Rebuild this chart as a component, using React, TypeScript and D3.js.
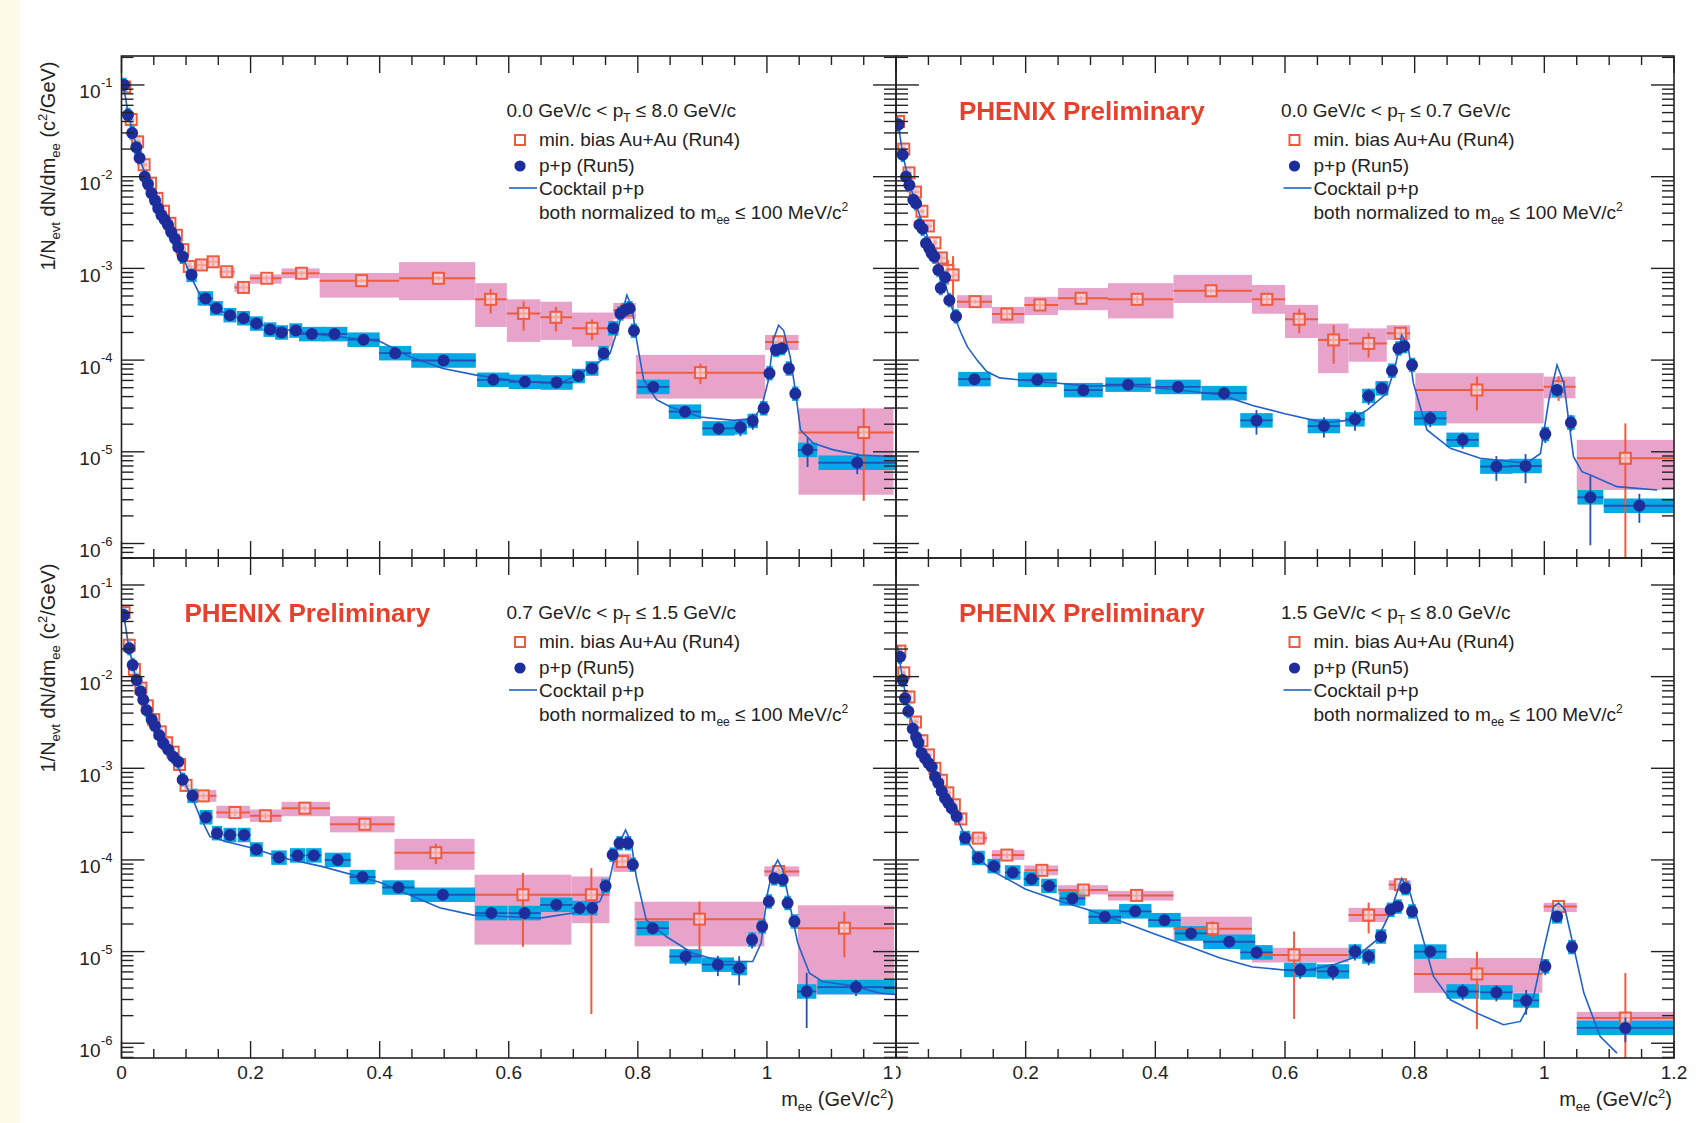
import React from "react";
import * as d3 from "d3";

// pp points: mass, yield, half bin width, relative stat error
type PP = [number, number, number, number];
// Au+Au points: mass, yield, bin low, bin high, relative stat error, syst low, syst high
type AA = [number, number, number, number, number, number, number];
type XY = [number, number];

// ---- 0.0 < pT < 8.0 ----
const ppTL: PP[] = [
  [0.004, 0.1, 0.004, 0.03], [0.01, 0.047, 0.004, 0.03], [0.0165, 0.03, 0.004, 0.03], [0.023, 0.021, 0.004, 0.03],
  [0.028, 0.016, 0.004, 0.03], [0.036, 0.01, 0.004, 0.03], [0.041, 0.0083, 0.004, 0.03], [0.0465, 0.0066, 0.004, 0.03],
  [0.052, 0.0055, 0.004, 0.03], [0.057, 0.0045, 0.004, 0.03], [0.062, 0.0038, 0.004, 0.03], [0.067, 0.0034, 0.004, 0.03],
  [0.072, 0.003, 0.004, 0.03], [0.077, 0.0025, 0.004, 0.03], [0.083, 0.0021, 0.004, 0.03], [0.088, 0.0017, 0.004, 0.03],
  [0.095, 0.00134, 0.005, 0.03], [0.1085, 8.5e-4, 0.008, 0.03], [0.13, 4.7e-4, 0.012, 0.03], [0.147, 3.67e-4, 0.01, 0.03],
  [0.168, 3.09e-4, 0.01, 0.03], [0.189, 2.86e-4, 0.01, 0.03], [0.209, 2.5e-4, 0.01, 0.03], [0.23, 2.15e-4, 0.01, 0.03],
  [0.248, 2.0e-4, 0.01, 0.03], [0.27, 2.1e-4, 0.01, 0.03], [0.295, 1.92e-4, 0.02, 0.03], [0.33, 1.92e-4, 0.02, 0.03],
  [0.375, 1.67e-4, 0.025, 0.04], [0.424, 1.19e-4, 0.025, 0.05], [0.499, 9.9e-5, 0.05, 0.05], [0.576, 6.1e-5, 0.025, 0.08],
  [0.625, 5.8e-5, 0.025, 0.08], [0.674, 5.7e-5, 0.025, 0.08], [0.708, 6.7e-5, 0.01, 0.08], [0.729, 8.1e-5, 0.01, 0.08],
  [0.747, 1.19e-4, 0.008, 0.06], [0.762, 2.22e-4, 0.008, 0.05], [0.773, 3.23e-4, 0.005, 0.04], [0.78, 3.52e-4, 0.005, 0.04],
  [0.787, 3.67e-4, 0.005, 0.04], [0.794, 2.09e-4, 0.005, 0.05], [0.824, 5.1e-5, 0.025, 0.1], [0.873, 2.74e-5, 0.025, 0.12],
  [0.925, 1.8e-5, 0.025, 0.15], [0.959, 1.85e-5, 0.01, 0.2], [0.978, 2.17e-5, 0.008, 0.2], [0.995, 2.98e-5, 0.006, 0.15],
  [1.004, 7.2e-5, 0.005, 0.1], [1.014, 1.29e-4, 0.005, 0.08], [1.023, 1.35e-4, 0.005, 0.08], [1.034, 8.1e-5, 0.005, 0.1],
  [1.044, 4.3e-5, 0.005, 0.12], [1.063, 1.05e-5, 0.015, 0.35], [1.14, 7.6e-6, 0.06, 0.25],
];
const auTL: AA[] = [
  [0.005, 0.095, 0, 0.01, 0.05, 0.082, 0.11], [0.015, 0.042, 0.01, 0.02, 0.05, 0.036, 0.048],
  [0.025, 0.024, 0.02, 0.03, 0.05, 0.021, 0.028], [0.035, 0.0135, 0.03, 0.04, 0.05, 0.0118, 0.0155],
  [0.045, 0.0085, 0.04, 0.05, 0.05, 0.0074, 0.0097], [0.055, 0.0058, 0.05, 0.06, 0.05, 0.005, 0.0066],
  [0.065, 0.0042, 0.06, 0.07, 0.05, 0.0036, 0.0048], [0.075, 0.0031, 0.07, 0.08, 0.05, 0.0027, 0.0035],
  [0.085, 0.0023, 0.08, 0.09, 0.05, 0.002, 0.0026], [0.095, 0.0016, 0.09, 0.1, 0.05, 0.0014, 0.0018],
  [0.105, 0.00105, 0.1, 0.11, 0.1, 0.0009, 0.0012], [0.124, 1.09e-3, 0.115, 0.133, 0.1, 9.5e-4, 1.25e-3],
  [0.142, 1.18e-3, 0.133, 0.152, 0.1, 1.03e-3, 1.35e-3], [0.163, 9.2e-4, 0.152, 0.175, 0.1, 8.2e-4, 1.03e-3],
  [0.189, 6.2e-4, 0.175, 0.199, 0.12, 5.5e-4, 6.9e-4], [0.225, 7.8e-4, 0.199, 0.248, 0.08, 6.8e-4, 8.6e-4],
  [0.279, 8.85e-4, 0.248, 0.307, 0.06, 7.8e-4, 1.0e-3], [0.372, 7.35e-4, 0.307, 0.43, 0.05, 4.8e-4, 8.9e-4],
  [0.491, 7.8e-4, 0.43, 0.548, 0.05, 4.5e-4, 1.17e-3], [0.572, 4.6e-4, 0.548, 0.597, 0.3, 2.3e-4, 6.9e-4],
  [0.623, 3.23e-4, 0.597, 0.649, 0.35, 1.58e-4, 4.6e-4], [0.673, 2.93e-4, 0.649, 0.698, 0.3, 1.66e-4, 4.33e-4],
  [0.729, 2.22e-4, 0.698, 0.762, 0.25, 1.4e-4, 3.3e-4], [0.783, 3.5e-4, 0.762, 0.797, 0.1, 2.8e-4, 4.2e-4],
  [0.897, 7.3e-5, 0.797, 0.997, 0.25, 3.8e-5, 1.14e-4], [1.018, 1.58e-4, 0.997, 1.049, 0.1, 1.29e-4, 1.88e-4],
  [1.15, 1.62e-5, 1.049, 1.196, 0.82, 3.4e-6, 2.98e-5],
];
const ccTL: XY[] = [
  [0.002, 0.11], [0.01, 0.05], [0.02, 0.026], [0.03, 0.0145], [0.04, 0.0092], [0.05, 0.006], [0.06, 0.0043],
  [0.07, 0.0032], [0.08, 0.0023], [0.09, 0.0016], [0.1, 0.0011], [0.11, 7.5e-4], [0.12, 5.4e-4], [0.135, 4.1e-4],
  [0.15, 3.5e-4], [0.18, 2.9e-4], [0.22, 2.4e-4], [0.27, 2.05e-4], [0.32, 1.85e-4], [0.37, 1.7e-4], [0.4, 1.6e-4],
  [0.447, 1.09e-4], [0.498, 8.1e-5], [0.548, 6.9e-5], [0.62, 5.8e-5], [0.68, 5.6e-5], [0.731, 8.5e-5],
  [0.757, 1.19e-4], [0.77, 2.31e-4], [0.783, 5.1e-4], [0.791, 3.8e-4], [0.798, 1.66e-4], [0.809, 6.1e-5],
  [0.829, 3.7e-5], [0.85, 3.1e-5], [0.897, 2.4e-5], [0.948, 2.2e-5], [0.979, 2.3e-5], [0.992, 3.1e-5],
  [1.0025, 6.1e-5], [1.01, 1.66e-4], [1.018, 2.4e-4], [1.026, 2.1e-4], [1.036, 1.09e-4], [1.044, 4.7e-5],
  [1.052, 1.73e-5], [1.072, 1.24e-5], [1.103, 1.05e-5], [1.145, 9.2e-6], [1.196, 8.85e-6],
];

// ---- 0.0 < pT < 0.7 ----
const ppTR: PP[] = [
  [0.004, 0.037, 0.003, 0.03], [0.0103, 0.0173, 0.003, 0.03], [0.0154, 0.01, 0.003, 0.03], [0.0206, 0.0081, 0.003, 0.03],
  [0.0267, 0.0056, 0.003, 0.03], [0.031, 0.0051, 0.003, 0.03], [0.036, 0.003, 0.003, 0.03], [0.041, 0.0027, 0.003, 0.03],
  [0.0463, 0.00188, 0.003, 0.04], [0.0514, 0.00166, 0.003, 0.04], [0.055, 0.00146, 0.003, 0.04], [0.059, 0.00134, 0.003, 0.04],
  [0.0653, 9.6e-4, 0.003, 0.05], [0.069, 6.1e-4, 0.003, 0.06], [0.0756, 8.0e-4, 0.003, 0.05], [0.0823, 4.5e-4, 0.003, 0.08],
  [0.0926, 3.0e-4, 0.004, 0.15], [0.121, 6.2e-5, 0.025, 0.1], [0.218, 6.1e-5, 0.03, 0.1], [0.289, 4.7e-5, 0.03, 0.12],
  [0.358, 5.4e-5, 0.035, 0.12], [0.435, 5.1e-5, 0.035, 0.12], [0.506, 4.36e-5, 0.035, 0.15], [0.556, 2.2e-5, 0.025, 0.3],
  [0.66, 1.91e-5, 0.025, 0.25], [0.708, 2.26e-5, 0.015, 0.25], [0.729, 4.06e-5, 0.01, 0.2], [0.7495, 4.92e-5, 0.01, 0.15],
  [0.765, 7.67e-5, 0.006, 0.1], [0.775, 1.34e-4, 0.005, 0.08], [0.784, 1.42e-4, 0.005, 0.08], [0.796, 8.85e-5, 0.005, 0.1],
  [0.824, 2.32e-5, 0.025, 0.2], [0.874, 1.35e-5, 0.025, 0.2], [0.926, 6.9e-6, 0.025, 0.3], [0.971, 7.0e-6, 0.025, 0.35],
  [1.0015, 1.56e-5, 0.006, 0.2], [1.0196, 4.72e-5, 0.008, 0.15], [1.041, 2.08e-5, 0.006, 0.2], [1.071, 3.19e-6, 0.02, 0.7],
  [1.1466, 2.58e-6, 0.055, 0.35],
];
const auTR: AA[] = [
  [0.004, 0.04, 0, 0.008, 0.05, 0.034, 0.046], [0.012, 0.02, 0.008, 0.016, 0.05, 0.017, 0.023],
  [0.02, 0.011, 0.016, 0.024, 0.05, 0.0094, 0.0127], [0.03, 0.0068, 0.024, 0.036, 0.05, 0.0058, 0.0078],
  [0.04, 0.0042, 0.036, 0.044, 0.05, 0.0036, 0.0048], [0.05, 0.0029, 0.044, 0.056, 0.06, 0.0025, 0.0033],
  [0.06, 0.0019, 0.056, 0.064, 0.07, 0.0016, 0.0022], [0.07, 0.0013, 0.064, 0.076, 0.1, 0.0011, 0.0015],
  [0.08, 9.5e-4, 0.076, 0.084, 0.3, 8.1e-4, 1.1e-3], [0.088, 8.5e-4, 0.084, 0.094, 0.6, 7.3e-4, 9.8e-4],
  [0.122, 4.34e-4, 0.094, 0.148, 0.05, 3.7e-4, 5.1e-4], [0.171, 3.18e-4, 0.148, 0.198, 0.15, 2.5e-4, 3.8e-4],
  [0.222, 3.99e-4, 0.198, 0.25, 0.1, 3.1e-4, 4.9e-4], [0.2855, 4.72e-4, 0.25, 0.327, 0.06, 3.5e-4, 6.1e-4],
  [0.372, 4.6e-4, 0.327, 0.428, 0.08, 2.85e-4, 6.9e-4], [0.486, 5.7e-4, 0.428, 0.549, 0.05, 4.2e-4, 8.5e-4],
  [0.572, 4.6e-4, 0.549, 0.6, 0.1, 3.2e-4, 6.6e-4], [0.622, 2.79e-4, 0.6, 0.651, 0.3, 1.74e-4, 4.0e-4],
  [0.675, 1.66e-4, 0.651, 0.698, 0.45, 7.2e-5, 2.5e-4], [0.729, 1.52e-4, 0.698, 0.757, 0.3, 9.6e-5, 2.22e-4],
  [0.778, 1.96e-4, 0.757, 0.793, 0.15, 1.66e-4, 2.4e-4], [0.896, 4.72e-5, 0.801, 0.999, 0.4, 2.04e-5, 7.2e-5],
  [1.022, 5.13e-5, 0.999, 1.048, 0.3, 3.83e-5, 6.6e-5], [1.125, 8.5e-6, 1.05, 1.2, 1.4, 3.83e-6, 1.35e-5],
];
const ccTR: XY[] = [
  [0.002, 0.045], [0.01, 0.018], [0.02, 0.0088], [0.03, 0.0052], [0.04, 0.0032], [0.05, 0.0021], [0.06, 0.0014],
  [0.07, 9.5e-4], [0.08, 5.4e-4], [0.09, 3.0e-4], [0.1, 2.0e-4], [0.11, 1.4e-4], [0.125, 1.0e-4], [0.14, 7.5e-5],
  [0.16, 6.4e-5], [0.2, 6.0e-5], [0.25, 5.6e-5], [0.3, 5.2e-5], [0.35, 5.3e-5], [0.4, 5.0e-5], [0.45, 4.6e-5],
  [0.5, 4.2e-5], [0.55, 3.2e-5], [0.6, 2.6e-5], [0.66, 2.08e-5], [0.698, 2.2e-5], [0.727, 2.86e-5], [0.757, 4.35e-5],
  [0.77, 8.5e-5], [0.78, 1.88e-4], [0.79, 1.4e-4], [0.798, 5.6e-5], [0.819, 1.73e-5], [0.855, 1.09e-5],
  [0.901, 8.5e-6], [0.973, 7.5e-6], [0.994, 9.6e-6], [1.007, 3.67e-5], [1.0196, 8.85e-5], [1.03, 5.6e-5],
  [1.045, 8.85e-6], [1.058, 6.07e-6], [1.071, 5.6e-6], [1.112, 4.17e-6], [1.174, 3.83e-6],
];

// ---- 0.7 < pT < 1.5 ----
const ppBL: PP[] = [
  [0.0039, 0.047, 0.003, 0.03], [0.012, 0.0204, 0.003, 0.03], [0.0173, 0.0134, 0.003, 0.03], [0.0235, 0.0092, 0.003, 0.03],
  [0.0297, 0.0069, 0.003, 0.03], [0.0337, 0.0056, 0.003, 0.03], [0.039, 0.0043, 0.003, 0.03], [0.0467, 0.0034, 0.003, 0.03],
  [0.0519, 0.0029, 0.003, 0.03], [0.0585, 0.0023, 0.003, 0.03], [0.0647, 0.00188, 0.003, 0.03], [0.0725, 0.00159, 0.003, 0.03],
  [0.0802, 0.00134, 0.003, 0.03], [0.088, 0.00118, 0.003, 0.03], [0.0947, 7.5e-4, 0.004, 0.04], [0.11, 5.0e-4, 0.008, 0.04],
  [0.131, 2.92e-4, 0.01, 0.05], [0.148, 1.96e-4, 0.008, 0.05], [0.168, 1.87e-4, 0.01, 0.05], [0.19, 1.87e-4, 0.01, 0.05],
  [0.209, 1.3e-4, 0.01, 0.05], [0.244, 1.06e-4, 0.012, 0.05], [0.273, 1.12e-4, 0.012, 0.05], [0.298, 1.12e-4, 0.012, 0.05],
  [0.335, 1.0e-4, 0.02, 0.06], [0.3735, 6.5e-5, 0.02, 0.08], [0.429, 5.0e-5, 0.025, 0.08], [0.498, 4.17e-5, 0.05, 0.1],
  [0.573, 2.63e-5, 0.025, 0.15], [0.6246, 2.63e-5, 0.025, 0.15], [0.6737, 3.24e-5, 0.025, 0.15], [0.7098, 2.98e-5, 0.012, 0.15],
  [0.7294, 2.98e-5, 0.008, 0.15], [0.75, 5.2e-5, 0.007, 0.1], [0.761, 1.14e-4, 0.005, 0.08], [0.7717, 1.52e-4, 0.005, 0.08],
  [0.7846, 1.52e-4, 0.005, 0.08], [0.7923, 8.85e-5, 0.005, 0.1], [0.823, 1.8e-5, 0.025, 0.15], [0.874, 8.85e-6, 0.025, 0.2],
  [0.924, 7.2e-6, 0.025, 0.25], [0.957, 6.6e-6, 0.012, 0.35], [0.977, 1.35e-5, 0.006, 0.2], [0.9926, 1.88e-5, 0.006, 0.15],
  [1.003, 3.52e-5, 0.005, 0.1], [1.0116, 6.3e-5, 0.005, 0.08], [1.0245, 6.07e-5, 0.005, 0.08], [1.032, 3.39e-5, 0.005, 0.1],
  [1.0426, 2.13e-5, 0.006, 0.12], [1.0616, 3.67e-6, 0.015, 0.6], [1.138, 4.1e-6, 0.06, 0.2],
];
const auBL: AA[] = [
  [0.004, 0.05, 0, 0.008, 0.05, 0.043, 0.058], [0.012, 0.022, 0.008, 0.016, 0.05, 0.019, 0.026],
  [0.02, 0.012, 0.016, 0.024, 0.05, 0.0103, 0.014], [0.03, 0.0075, 0.024, 0.036, 0.05, 0.0064, 0.0087],
  [0.04, 0.0048, 0.036, 0.044, 0.05, 0.0041, 0.0056], [0.05, 0.0034, 0.044, 0.056, 0.05, 0.0029, 0.0039],
  [0.06, 0.0025, 0.056, 0.064, 0.05, 0.0021, 0.0029], [0.07, 0.0019, 0.064, 0.076, 0.06, 0.0016, 0.0022],
  [0.08, 0.0015, 0.076, 0.084, 0.07, 0.0013, 0.0017], [0.09, 0.0011, 0.084, 0.096, 0.08, 9.4e-4, 1.28e-3],
  [0.1, 6.5e-4, 0.096, 0.105, 0.1, 5.5e-4, 7.5e-4], [0.1267, 5.0e-4, 0.105, 0.147, 0.08, 4.3e-4, 5.8e-4],
  [0.1757, 3.29e-4, 0.147, 0.199, 0.08, 2.85e-4, 3.9e-4], [0.223, 3.03e-4, 0.199, 0.248, 0.08, 2.6e-4, 3.55e-4],
  [0.284, 3.67e-4, 0.248, 0.323, 0.06, 3.0e-4, 4.3e-4], [0.377, 2.45e-4, 0.323, 0.423, 0.08, 2.0e-4, 3.0e-4],
  [0.487, 1.2e-4, 0.423, 0.547, 0.25, 7.8e-5, 1.7e-4], [0.622, 4.17e-5, 0.547, 0.697, 0.73, 1.19e-5, 6.9e-5],
  [0.728, 4.17e-5, 0.697, 0.756, 0.95, 2.04e-5, 6.6e-5], [0.776, 9.6e-5, 0.762, 0.79, 0.15, 7.4e-5, 1.17e-4],
  [0.8955, 2.26e-5, 0.795, 0.996, 0.55, 1.14e-5, 3.5e-5], [1.018, 7.48e-5, 0.996, 1.05, 0.1, 6.6e-5, 8.5e-5],
  [1.12, 1.8e-5, 1.048, 1.197, 0.52, 3.4e-6, 3.2e-5],
];
const ccBL: XY[] = [
  [0.002, 0.055], [0.01, 0.024], [0.02, 0.011], [0.03, 0.0068], [0.04, 0.0044], [0.05, 0.0031], [0.06, 0.0022],
  [0.07, 0.0017], [0.08, 0.0013], [0.09, 9.5e-4], [0.1, 6.5e-4], [0.111, 4.5e-4], [0.1215, 2.97e-4], [0.137, 1.8e-4],
  [0.163, 1.58e-4], [0.204, 1.34e-4], [0.25, 1.05e-4], [0.31, 8.5e-5], [0.4, 5.7e-5], [0.493, 3.0e-5], [0.545, 2.5e-5],
  [0.648, 2.32e-5], [0.7, 2.63e-5], [0.741, 3.52e-5], [0.756, 6.07e-5], [0.7666, 1.29e-4], [0.781, 2.13e-4],
  [0.79, 1.52e-4], [0.7975, 6.6e-5], [0.813, 2.22e-5], [0.844, 1.46e-5], [0.885, 9.6e-6], [0.9316, 7.8e-6],
  [0.978, 7.8e-6], [0.991, 1.24e-5], [1.001, 4.35e-5], [1.009, 7.8e-5], [1.0167, 1.0e-4], [1.0245, 7.8e-5],
  [1.035, 3.39e-5], [1.0477, 1.24e-5], [1.066, 5.8e-6], [1.086, 4.72e-6], [1.138, 4.17e-6], [1.174, 3.52e-6], [1.2, 3.4e-6],
];

// ---- 1.5 < pT < 8.0 ----
const ppBR: PP[] = [
  [0.0062, 0.0165, 0.003, 0.03], [0.0103, 0.0092, 0.003, 0.03], [0.0139, 0.0058, 0.003, 0.03], [0.019, 0.0042, 0.003, 0.03],
  [0.0258, 0.0027, 0.003, 0.03], [0.031, 0.0022, 0.003, 0.03], [0.0345, 0.0019, 0.003, 0.03], [0.0396, 0.00146, 0.003, 0.03],
  [0.0448, 0.00129, 0.003, 0.03], [0.0499, 0.00114, 0.003, 0.03], [0.055, 0.00104, 0.003, 0.03], [0.0602, 8.1e-4, 0.003, 0.03],
  [0.0653, 6.9e-4, 0.003, 0.03], [0.0705, 5.6e-4, 0.003, 0.03], [0.0756, 4.7e-4, 0.003, 0.03], [0.0807, 4.17e-4, 0.003, 0.03],
  [0.086, 3.67e-4, 0.003, 0.03], [0.0936, 2.97e-4, 0.004, 0.04], [0.1065, 1.73e-4, 0.008, 0.05], [0.127, 1.05e-4, 0.01, 0.05],
  [0.151, 8.55e-5, 0.01, 0.05], [0.18, 7.3e-5, 0.012, 0.05], [0.209, 6.2e-5, 0.012, 0.05], [0.236, 5.2e-5, 0.012, 0.06],
  [0.272, 3.8e-5, 0.02, 0.08], [0.322, 2.4e-5, 0.025, 0.1], [0.369, 2.75e-5, 0.025, 0.1], [0.414, 2.2e-5, 0.025, 0.1],
  [0.455, 1.58e-5, 0.025, 0.12], [0.514, 1.28e-5, 0.04, 0.12], [0.556, 9.8e-6, 0.025, 0.15], [0.6235, 6.3e-6, 0.025, 0.2],
  [0.674, 6.07e-6, 0.025, 0.2], [0.708, 1.0e-5, 0.01, 0.2], [0.729, 8.85e-6, 0.01, 0.2], [0.748, 1.46e-5, 0.008, 0.15],
  [0.763, 2.86e-5, 0.006, 0.1], [0.774, 3.1e-5, 0.006, 0.1], [0.7855, 4.92e-5, 0.006, 0.08], [0.796, 2.74e-5, 0.006, 0.1],
  [0.824, 1.0e-5, 0.025, 0.15], [0.874, 3.67e-6, 0.025, 0.2], [0.926, 3.58e-6, 0.025, 0.2], [0.972, 2.93e-6, 0.02, 0.3],
  [1.0015, 6.9e-6, 0.006, 0.2], [1.0196, 2.42e-5, 0.008, 0.1], [1.0427, 1.12e-5, 0.006, 0.15], [1.125, 1.47e-6, 0.075, 0.3],
];
const auBR: AA[] = [
  [0.006, 0.019, 0.002, 0.01, 0.05, 0.016, 0.022], [0.012, 0.011, 0.01, 0.015, 0.05, 0.0094, 0.0127],
  [0.02, 0.006, 0.015, 0.025, 0.05, 0.0051, 0.0069], [0.03, 0.0032, 0.025, 0.035, 0.05, 0.0027, 0.0037],
  [0.04, 0.002, 0.035, 0.045, 0.05, 0.0017, 0.0023], [0.05, 0.0014, 0.045, 0.055, 0.05, 0.0012, 0.0016],
  [0.06, 0.001, 0.055, 0.065, 0.05, 8.5e-4, 1.15e-3], [0.07, 7.4e-4, 0.065, 0.075, 0.06, 6.3e-4, 8.5e-4],
  [0.08, 5.4e-4, 0.075, 0.085, 0.07, 4.6e-4, 6.2e-4], [0.09, 4.0e-4, 0.085, 0.095, 0.08, 3.4e-4, 4.6e-4],
  [0.1, 2.8e-4, 0.095, 0.105, 0.1, 2.4e-4, 3.2e-4], [0.127, 1.73e-4, 0.115, 0.14, 0.08, 1.55e-4, 1.95e-4],
  [0.171, 1.13e-4, 0.148, 0.198, 0.08, 1.0e-4, 1.28e-4], [0.225, 7.7e-5, 0.198, 0.25, 0.1, 6.8e-5, 8.7e-5],
  [0.289, 4.7e-5, 0.25, 0.327, 0.1, 4.2e-5, 5.3e-5], [0.371, 4.1e-5, 0.327, 0.428, 0.12, 3.6e-5, 4.6e-5],
  [0.488, 1.78e-5, 0.428, 0.549, 0.2, 1.3e-5, 2.4e-5], [0.614, 9.2e-6, 0.549, 0.698, 0.8, 7.6e-6, 1.1e-5],
  [0.729, 2.5e-5, 0.698, 0.757, 0.37, 2.1e-5, 3.0e-5], [0.778, 5.37e-5, 0.76, 0.794, 0.1, 4.7e-5, 6.0e-5],
  [0.896, 5.7e-6, 0.799, 0.997, 0.75, 3.55e-6, 8.5e-6], [1.022, 3.1e-5, 0.999, 1.05, 0.1, 2.7e-5, 3.4e-5],
  [1.125, 1.88e-6, 1.05, 1.2, 2.1, 1.58e-6, 2.2e-6],
];
const ccBR: XY[] = [
  [0.002, 0.022], [0.01, 0.0095], [0.02, 0.0042], [0.03, 0.0024], [0.04, 0.0015], [0.05, 0.00112], [0.06, 8.2e-4],
  [0.07, 5.8e-4], [0.08, 4.3e-4], [0.09, 3.3e-4], [0.1, 2.3e-4], [0.11, 1.6e-4], [0.13, 1.0e-4], [0.15, 7.5e-5],
  [0.2, 4.8e-5], [0.25, 3.6e-5], [0.3, 2.8e-5], [0.35, 2.1e-5], [0.4, 1.55e-5], [0.45, 1.15e-5], [0.5, 8.5e-6],
  [0.55, 6.8e-6], [0.6235, 6.07e-6], [0.675, 7.2e-6], [0.711, 8.85e-6], [0.742, 1.35e-5], [0.762, 2.63e-5],
  [0.78, 6.3e-5], [0.793, 4.35e-5], [0.809, 1.73e-5], [0.829, 5.36e-6], [0.855, 2.98e-6], [0.896, 2.13e-6],
  [0.937, 1.59e-6], [0.963, 1.73e-6], [0.9835, 3.24e-6], [0.999, 1.05e-5], [1.0144, 3.1e-5], [1.022, 3.39e-5],
  [1.032, 2.86e-5], [1.045, 1.14e-5], [1.061, 3.52e-6], [1.086, 1.19e-6], [1.112, 7.8e-7],
];

const ptLow = ["0.0", "0.0", "0.7", "1.5"];
const ptHigh = ["8.0", "0.7", "1.5", "8.0"];
const xMajor = [0, 0.2, 0.4, 0.6, 0.8, 1, 1.2];
const xMajorLabels = ["0", "0.2", "0.4", "0.6", "0.8", "1", "1.2"];
const decades = [-1, -2, -3, -4, -5, -6];
const ppSys = 1.2; // p+p systematic band (multiplicative)

const FONT = "'Liberation Sans', Arial, Helvetica, sans-serif";
const C = {
  pink: "#e8a3ca",
  cyan: "#05a8e2",
  red: "#ef5b3d",
  dot: "#1d2e9c",
  ppErr: "#2450b8",
  cocktail: "#1f62c9",
  phenix: "#e8402c",
  axis: "#222",
};

const layout = [
  { x0: 121.5, x1: 896, y0: 56, y1: 558, yDom: [6.95e-7, 0.207], left: true, bottom: false },
  { x0: 896, x1: 1674, y0: 56, y1: 558, yDom: [6.95e-7, 0.207], left: false, bottom: false },
  { x0: 121.5, x1: 896, y0: 558, y1: 1058, yDom: [6.9e-7, 0.197], left: true, bottom: true },
  { x0: 896, x1: 1674, y0: 558, y1: 1058, yDom: [6.9e-7, 0.197], left: false, bottom: true },
];
const series = [
  { pp: ppTL, au: auTL, cc: ccTL, phenix: false },
  { pp: ppTR, au: auTR, cc: ccTR, phenix: true },
  { pp: ppBL, au: auBL, cc: ccBL, phenix: true },
  { pp: ppBR, au: auBR, cc: ccBR, phenix: true },
];

function Panel({ idx }: { idx: number }) {
  const L = layout[idx];
  const S = series[idx];
  const x = d3.scaleLinear().domain([0, 1.2]).range([L.x0, L.x1]);
  const y = d3.scaleLog().domain(L.yDom).range([L.y1, L.y0]);
  const yFloor = L.yDom[0] / 3;
  const clipId = `pclip${idx}`;
  const line = d3.line<XY>().x(d => x(d[0])).y(d => y(d[1]));

  const yTicks: { v: number; major: boolean }[] = [];
  for (let e = -7; e <= 0; e++) {
    for (let m = 1; m <= 9; m++) {
      const v = m * Math.pow(10, e);
      if (v >= L.yDom[0] && v <= L.yDom[1]) yTicks.push({ v, major: m === 1 });
    }
  }
  const xTicks = d3.range(0, 25).map(i => ({ v: i * 0.05, major: i % 4 === 0 }));

  const lx = L.x0 + 385;
  const ly = L.y0 + 61;
  const sq = 11;

  return (
    <g>
      <defs>
        <clipPath id={clipId}>
          <rect x={L.x0} y={L.y0} width={L.x1 - L.x0} height={L.y1 - L.y0} />
        </clipPath>
      </defs>
      <g clipPath={`url(#${clipId})`}>
        {S.au.map((d, i) => (
          <rect key={`as${i}`} x={x(d[2])} width={x(d[3]) - x(d[2])} y={y(d[6])} height={y(d[5]) - y(d[6])} fill={C.pink} />
        ))}
        {S.pp.map((d, i) => (
          <rect key={`ps${i}`} x={x(d[0] - d[2])} width={x(d[0] + d[2]) - x(d[0] - d[2])}
            y={y(d[1] * ppSys)} height={y(d[1] / ppSys) - y(d[1] * ppSys)} fill={C.cyan} />
        ))}
        {S.au.map((d, i) => {
          const lo = d[4] < 1 ? d[1] * (1 - d[4]) : yFloor;
          return (
            <g key={`ae${i}`} stroke={C.red} strokeWidth={2}>
              <line x1={x(d[2])} x2={x(d[3])} y1={y(d[1])} y2={y(d[1])} />
              <line x1={x(d[0])} x2={x(d[0])} y1={y(lo)} y2={y(d[1] * (1 + d[4]))} />
            </g>
          );
        })}
        {S.au.map((d, i) => (
          <rect key={`am${i}`} x={x(d[0]) - sq / 2} y={y(d[1]) - sq / 2} width={sq} height={sq}
            fill="#fff" fillOpacity={0.45} stroke={C.red} strokeWidth={2} />
        ))}
        <path d={line(S.cc) || ""} fill="none" stroke={C.cocktail} strokeWidth={1.6} />
        {S.pp.map((d, i) => (
          <g key={`pe${i}`} stroke={C.ppErr} strokeWidth={1.8}>
            <line x1={x(d[0] - d[2])} x2={x(d[0] + d[2])} y1={y(d[1])} y2={y(d[1])} />
            <line x1={x(d[0])} x2={x(d[0])} y1={y(d[3] < 1 ? d[1] * (1 - d[3]) : yFloor)} y2={y(d[1] * (1 + d[3]))} />
          </g>
        ))}
        {S.pp.map((d, i) => (
          <circle key={`pm${i}`} cx={x(d[0])} cy={y(d[1])} r={6} fill={C.dot} />
        ))}
      </g>

      {/* frame and ticks */}
      <rect x={L.x0} y={L.y0} width={L.x1 - L.x0} height={L.y1 - L.y0} fill="none" stroke={C.axis} strokeWidth={1.6} />
      <g stroke={C.axis} strokeWidth={1.4}>
        {xTicks.map((t, i) => {
          const len = t.major ? 17 : 9;
          return (
            <g key={`xt${i}`}>
              <line x1={x(t.v)} x2={x(t.v)} y1={L.y0} y2={L.y0 + len} />
              <line x1={x(t.v)} x2={x(t.v)} y1={L.y1} y2={L.y1 - len} />
            </g>
          );
        })}
        {yTicks.map((t, i) => {
          const len = t.major ? 23 : 12;
          return (
            <g key={`yt${i}`}>
              <line x1={L.x0} x2={L.x0 + len} y1={y(t.v)} y2={y(t.v)} />
              <line x1={L.x1} x2={L.x1 - len} y1={y(t.v)} y2={y(t.v)} />
            </g>
          );
        })}
      </g>

      {/* legend */}
      <g fontFamily={FONT} fill="#222" fontSize={19}>
        <text x={lx} y={ly}>
          {ptLow[idx]} GeV/c &lt; p<tspan dy={5} fontSize={12}>T</tspan>
          <tspan dy={-5}> ≤ {ptHigh[idx]} GeV/c</tspan>
        </text>
        <rect x={lx + 8.5} y={ly + 18} width={10} height={10} fill="#fff" stroke={C.red} strokeWidth={2} />
        <text x={lx + 32.5} y={ly + 29}>min. bias Au+Au (Run4)</text>
        <circle cx={lx + 13.5} cy={ly + 49} r={5.6} fill={C.dot} />
        <text x={lx + 32.5} y={ly + 55}>p+p (Run5)</text>
        <line x1={lx + 2.5} x2={lx + 30.5} y1={ly + 71} y2={ly + 71} stroke={C.cocktail} strokeWidth={1.6} />
        <text x={lx + 32.5} y={ly + 78}>Cocktail p+p</text>
        <text x={lx + 32.5} y={ly + 102}>
          both normalized to m<tspan dy={5} fontSize={12}>ee</tspan>
          <tspan dy={-5}> ≤ 100 MeV/c</tspan>
          <tspan dy={-8} fontSize={12}>2</tspan>
        </text>
      </g>

      {S.phenix && (
        <text x={L.x0 + 63} y={L.y0 + 64} fontFamily={FONT} fontWeight="bold" fontSize={26} fill={C.phenix}
          filter="url(#soft)">
          PHENIX Preliminary
        </text>
      )}

      {/* y labels */}
      {L.left && decades.map(e => (
        <g key={`yl${e}`} fontFamily={FONT} fill="#222">
          <text x={L.x0 - 21} y={y(Math.pow(10, e)) + 13.5} fontSize={19} textAnchor="end">10</text>
          <text x={L.x0 - 20.5} y={y(Math.pow(10, e)) + 2} fontSize={13}>{e}</text>
        </g>
      ))}

      {/* x labels */}
      {L.bottom && xMajor.map((v, i) => {
        const clip = L.left && i === xMajor.length - 1 ? "url(#clipLeftLabel)" : !L.left && i === 0 ? "url(#clipRightLabel)" : undefined;
        return (
          <text key={`xl${i}`} x={x(v)} y={1079} fontFamily={FONT} fontSize={19} fill="#222" textAnchor="middle" clipPath={clip}>
            {xMajorLabels[i]}
          </text>
        );
      })}
      {L.bottom && (
        <text x={L.x1 - 2} y={1106} fontFamily={FONT} fontSize={20} fill="#222" textAnchor="end">
          m<tspan dy={5} fontSize={13}>ee</tspan>
          <tspan dy={-5}> (GeV/c</tspan>
          <tspan dy={-8} fontSize={13}>2</tspan>
          <tspan dy={8}>)</tspan>
        </text>
      )}
      {L.left && (
        <text transform={`translate(55,${L.y0 + 110}) rotate(-90)`} fontFamily={FONT} fontSize={20} fill="#222" textAnchor="middle">
          1/N<tspan dy={5} fontSize={13}>evt</tspan>
          <tspan dy={-5}> dN/dm</tspan>
          <tspan dy={5} fontSize={13}>ee</tspan>
          <tspan dy={-5}> (c</tspan>
          <tspan dy={-8} fontSize={13}>2</tspan>
          <tspan dy={8}>/GeV)</tspan>
        </text>
      )}
    </g>
  );
}

export default function App() {
  return (
    <svg width={1698} height={1123} style={{ position: "absolute", left: 0, top: 0, display: "block" }}>
      <defs>
        <filter id="soft" x="-5%" y="-20%" width="110%" height="140%">
          <feGaussianBlur stdDeviation={0.6} />
        </filter>
        <clipPath id="clipLeftLabel">
          <rect x={0} y={1040} width={893} height={60} />
        </clipPath>
        <clipPath id="clipRightLabel">
          <rect x={896} y={1040} width={800} height={60} />
        </clipPath>
      </defs>
      <rect width={1698} height={1123} fill="#fff" />
      <rect width={20} height={1123} fill="#fdfbe8" />
      {[0, 1, 2, 3].map(i => <Panel key={i} idx={i} />)}
    </svg>
  );
}
